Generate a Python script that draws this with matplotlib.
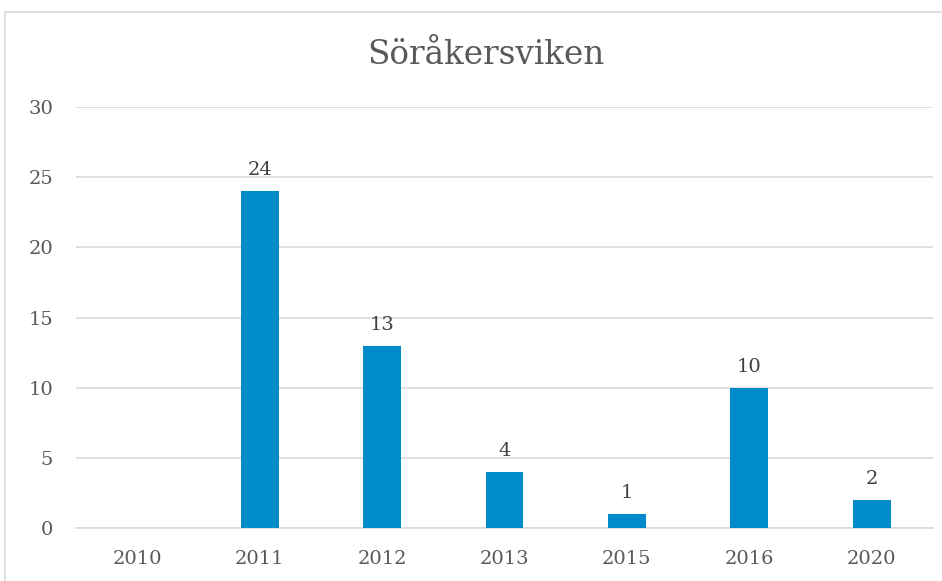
import matplotlib
matplotlib.use("Agg")
import matplotlib.pyplot as plt
from matplotlib.patches import Rectangle

years = ["2010", "2011", "2012", "2013", "2015", "2016", "2020"]
values = [0, 24, 13, 4, 1, 10, 2]
labels = ["", "24", "13", "4", "1", "10", "2"]
yticks = [0, 5, 10, 15, 20, 25, 30]
title = "Söråkersviken"

plt.rcParams['font.family'] = ['DejaVu Serif']
text_color = "#595959"
bar_color = "#008BCB"
grid_color = "#D9D9D9"

fig = plt.figure(figsize=(9.42, 5.81), dpi=100)
fig.patches.append(Rectangle((5/942, -0.1), 1.0, 1 - 12/581 + 0.1,
                             transform=fig.transFigure, fill=False,
                             edgecolor=grid_color, linewidth=1.2))
ax = fig.add_axes([76/942, 1 - 528/581, (933 - 76)/942, (528 - 107)/581])
x = list(range(len(years)))
bars = ax.bar(x, values, width=0.31, color=bar_color, zorder=3)
for xi, v, lab in zip(x, values, labels):
    if lab:
        ax.text(xi, v + 0.85, lab, ha="center", va="bottom", fontsize=14, color="#404040")
ax.set_xlim(-0.5, len(years) - 0.5)
ax.set_ylim(0, 30)
ax.set_yticks(yticks)
ax.set_yticklabels([str(t) for t in yticks], fontsize=14, color=text_color)
ax.set_xticks(x)
ax.set_xticklabels(years, fontsize=14, color=text_color)
ax.tick_params(length=0)
ax.tick_params(axis='y', pad=16.5)
ax.tick_params(axis='x', pad=16)
ax.grid(axis='y', color=grid_color, linewidth=1.2, zorder=0)
for s in ["top", "right", "left"]:
    ax.spines[s].set_visible(False)
ax.spines["bottom"].set_color(grid_color)
ax.spines["bottom"].set_linewidth(1.2)
fig.text(486/942, 1 - 55/581, title, ha="center", va="center", fontsize=23.5, color=text_color)
fig.savefig("out.png", dpi=100)
